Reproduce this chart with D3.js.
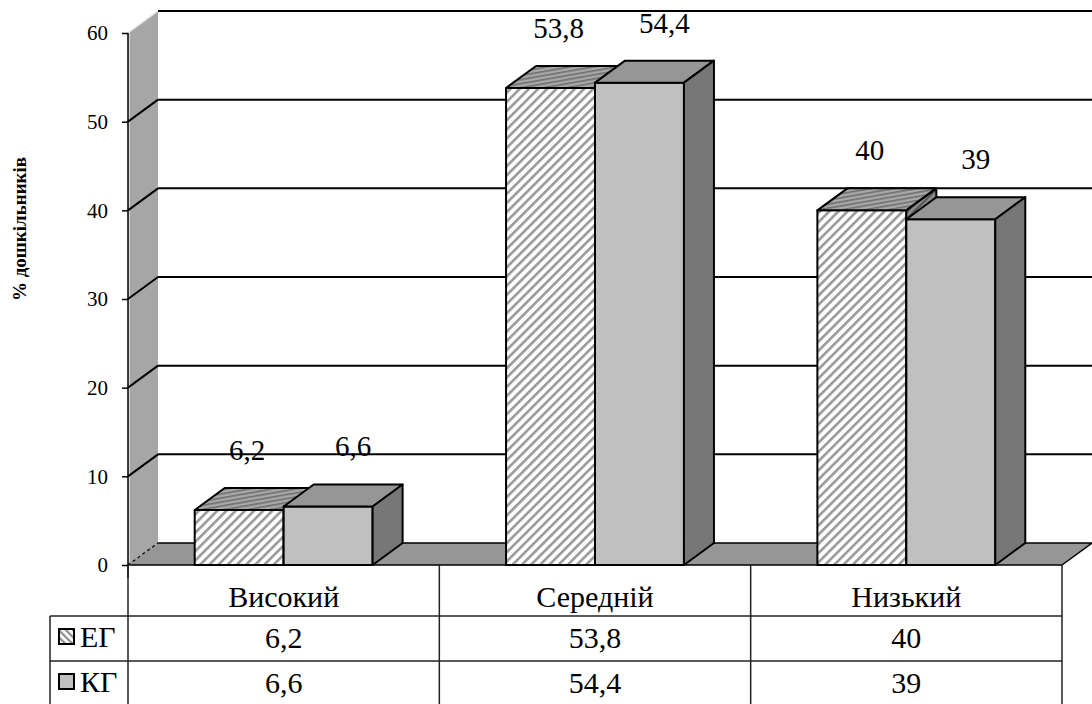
<!DOCTYPE html>
<html>
<head>
<meta charset="utf-8">
<script src="https://cdn.jsdelivr.net/npm/d3@7"></script>
<style>
  body { margin: 0; background: #fff; }
  svg { display: block; }
  text { font-family: "Liberation Serif", "Times New Roman", serif; fill: #000; }
</style>
</head>
<body>
<div id="chart"></div>
<script>
const categories = ['Високий', 'Середній', 'Низький']
const series = ['ЕГ', 'КГ']
const egValues = [6.2, 53.8, 40]
const kgValues = [6.6, 54.4, 39]
const yTicks = [0, 10, 20, 30, 40, 50, 60]
const yTitle = '% дошкільників'

const fmt = v => String(v).replace('.', ',')

const width = 1092
const height = 704
const plot = { left: 128, right: 1062, top: 33, bottom: 565 }
const depth = { dx: 30, dy: 22 }
const rowsY = [565, 616, 661, 706]
const legendLeft = 50

const rows = categories.map((c, i) => ({ category: c, 'ЕГ': egValues[i], 'КГ': kgValues[i] }))

const x0 = d3.scaleBand()
  .domain(categories)
  .range([plot.left, plot.right])

const x1 = d3.scaleBand()
  .domain(series)
  .range([0, x0.bandwidth()])
  .paddingOuter(0.75)

const y = d3.scaleLinear()
  .domain([0, 60])
  .range([plot.bottom, plot.top])

const svg = d3.select('#chart').append('svg')
  .attr('width', width)
  .attr('height', height)

// patterns
const defs = svg.append('defs')
const hatch = (id, bg, fg, size, sw, angle) => {
  const p = defs.append('pattern')
    .attr('id', id)
    .attr('patternUnits', 'userSpaceOnUse')
    .attr('width', size)
    .attr('height', size)
    .attr('patternTransform', `rotate(${angle})`)
  p.append('rect').attr('width', size).attr('height', size).attr('fill', bg)
  p.append('rect').attr('width', sw).attr('height', size).attr('fill', fg)
}
hatch('egFront', '#ffffff', '#999999', 6.5, 2.6, 45)
hatch('egTop', '#a8a8a8', '#6e6e6e', 4, 1.6, 80)
hatch('egSide', '#8a8a8a', '#555555', 5, 2, 45)
hatch('egIcon', '#ffffff', '#8f8f8f', 5, 2.2, -45)

const fills = {
  'ЕГ': { front: 'url(#egFront)', top: 'url(#egTop)', side: 'url(#egSide)' },
  'КГ': { front: '#c0c0c0', top: '#969696', side: '#777777' }
}

// left wall
const wall = svg.append('g')
wall.append('path')
  .attr('d', `M${plot.left},${y(60)}L${plot.left + depth.dx},${y(60) - depth.dy}V${y(0) - depth.dy}L${plot.left},${y(0)}Z`)
  .attr('fill', '#a6a6a6')
wall.append('line')
  .attr('x1', plot.left + 1).attr('x2', plot.left + 1)
  .attr('y1', y(60)).attr('y2', y(0))
  .attr('stroke', '#e6e6e6').attr('stroke-width', 1.5)
wall.append('line')
  .attr('x1', plot.left).attr('y1', y(60))
  .attr('x2', plot.left + depth.dx).attr('y2', y(60) - depth.dy)
  .attr('stroke', '#e0e0e0').attr('stroke-width', 1.5)

// floor
svg.append('path')
  .attr('d', `M${plot.left},${y(0)}L${plot.left + depth.dx},${y(0) - depth.dy}H${plot.right + depth.dx}L${plot.right},${y(0)}Z`)
  .attr('fill', '#969696')
  .attr('stroke', '#000')
  .attr('stroke-width', 1.5)
  .attr('stroke-linejoin', 'round')
svg.append('line')
  .attr('x1', plot.left).attr('y1', y(0))
  .attr('x2', plot.left + depth.dx).attr('y2', y(0) - depth.dy)
  .attr('stroke', '#a6a6a6').attr('stroke-width', 2)
svg.append('line')
  .attr('x1', plot.left).attr('y1', y(0))
  .attr('x2', plot.left + depth.dx).attr('y2', y(0) - depth.dy)
  .attr('stroke', '#000').attr('stroke-width', 1.2)
  .attr('stroke-dasharray', '3,3')

// gridlines
const grid = svg.append('g')
grid.selectAll('.back')
  .data(yTicks.filter(d => d > 0))
  .enter().append('line')
  .attr('x1', plot.left + depth.dx)
  .attr('x2', plot.right + depth.dx)
  .attr('y1', d => y(d) - depth.dy)
  .attr('y2', d => y(d) - depth.dy)
  .attr('stroke', '#000')
  .attr('stroke-width', 2)
grid.selectAll('.side')
  .data(yTicks.filter(d => d > 0 && d < 60))
  .enter().append('line')
  .attr('x1', plot.left)
  .attr('x2', plot.left + depth.dx)
  .attr('y1', d => y(d))
  .attr('y2', d => y(d) - depth.dy)
  .attr('stroke', '#000')
  .attr('stroke-width', 2)

// bars
function drawBar (g, xa, w, v, f) {
  const xb = xa + w
  const yT = y(v)
  const yB = y(0)
  const { dx, dy } = depth
  const faces = [
    { d: `M${xa},${yB}V${yT}H${xb}V${yB}Z`, fill: f.front },
    { d: `M${xa},${yT}L${xa + dx},${yT - dy}H${xb + dx}L${xb},${yT}Z`, fill: f.top },
    { d: `M${xb},${yB}V${yT}L${xb + dx},${yT - dy}V${yB - dy}Z`, fill: f.side }
  ]
  g.selectAll(null)
    .data(faces)
    .enter().append('path')
    .attr('d', d => d.d)
    .attr('fill', d => d.fill)
    .attr('stroke', '#000')
    .attr('stroke-width', 2)
    .attr('stroke-linejoin', 'round')
}

const bars = svg.append('g')
rows.forEach(r => {
  series.forEach(s => {
    drawBar(bars, x0(r.category) + x1(s), x1.bandwidth(), r[s], fills[s])
  })
})

// data labels
const labelShift = { 'ЕГ': -7, 'КГ': 10 }
const labels = svg.append('g')
rows.forEach(r => {
  series.forEach(s => {
    labels.append('text')
      .attr('x', x0(r.category) + x1(s) + x1.bandwidth() / 2 + depth.dx / 2 + labelShift[s])
      .attr('y', y(r[s]) - depth.dy - 28)
      .attr('text-anchor', 'middle')
      .attr('font-size', 29)
      .text(fmt(r[s]))
  })
})

// y axis
const yAxis = g => g
  .attr('transform', `translate(${plot.left},0)`)
  .call(d3.axisLeft(y).tickValues(yTicks).tickSize(6).tickPadding(14))
  .call(g => g.select('.domain').remove())
  .call(g => g.selectAll('.tick line').attr('stroke', '#000').attr('stroke-width', 1.5))
  .call(g => g.selectAll('.tick text')
    .attr('font-family', '"Liberation Serif", "Times New Roman", serif')
    .attr('font-size', 21)
    .attr('fill', '#000'))

svg.append('g').call(yAxis)

svg.append('line')
  .attr('x1', plot.left).attr('x2', plot.left)
  .attr('y1', y(60)).attr('y2', y(0) + 13)
  .attr('stroke', '#000').attr('stroke-width', 1.5)

svg.append('text')
  .attr('transform', `translate(26,${(y(60) + y(0)) / 2 - 70}) rotate(-90)`)
  .attr('text-anchor', 'middle')
  .attr('font-size', 19)
  .attr('font-weight', 'bold')
  .text(yTitle)

// data table
const table = svg.append('g')
const colEdges = categories.map(c => x0(c)).concat([plot.right])

table.selectAll('.vcol')
  .data(colEdges)
  .enter().append('line')
  .attr('x1', d => d).attr('x2', d => d)
  .attr('y1', rowsY[0]).attr('y2', rowsY[3])
  .attr('stroke', '#222').attr('stroke-width', 1.5)

table.append('line')
  .attr('x1', legendLeft).attr('x2', legendLeft)
  .attr('y1', rowsY[1]).attr('y2', rowsY[3])
  .attr('stroke', '#222').attr('stroke-width', 1.5)

table.selectAll('.hrow')
  .data([rowsY[1], rowsY[2]])
  .enter().append('line')
  .attr('x1', legendLeft).attr('x2', plot.right)
  .attr('y1', d => d).attr('y2', d => d)
  .attr('stroke', '#222').attr('stroke-width', 1.5)

table.selectAll('.cat')
  .data(categories)
  .enter().append('text')
  .attr('x', d => x0(d) + x0.bandwidth() / 2)
  .attr('y', rowsY[0] + 42)
  .attr('text-anchor', 'middle')
  .attr('font-size', 30)
  .text(d => d)

series.forEach((s, i) => {
  const top = rowsY[i + 1]
  table.append('rect')
    .attr('x', legendLeft + 9).attr('y', top + 13)
    .attr('width', 15).attr('height', 15)
    .attr('fill', i === 0 ? 'url(#egIcon)' : '#c0c0c0')
    .attr('stroke', '#000').attr('stroke-width', 2)
  table.append('text')
    .attr('x', legendLeft + 30)
    .attr('y', top + 31)
    .attr('font-size', 30)
    .text(s)
  table.selectAll(null)
    .data(rows)
    .enter().append('text')
    .attr('x', d => x0(d.category) + x0.bandwidth() / 2)
    .attr('y', top + 32)
    .attr('text-anchor', 'middle')
    .attr('font-size', 30)
    .text(d => fmt(d[s]))
})
</script>
</body>
</html>
